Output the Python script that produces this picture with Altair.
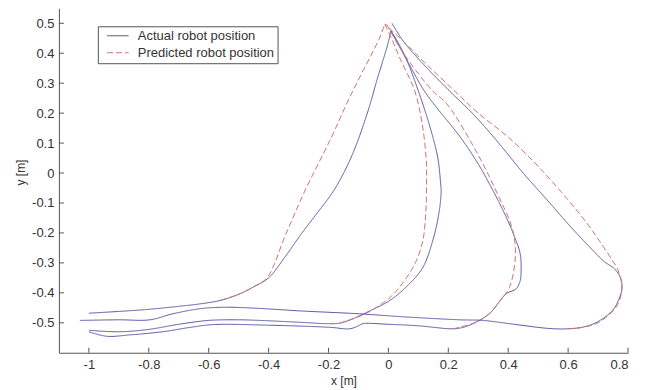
import altair as alt
import pandas as pd

X_TICKS = [-1, -0.8, -0.6, -0.4, -0.2, 0, 0.2, 0.4, 0.6, 0.8]
Y_TICKS = [-0.5, -0.4, -0.3, -0.2, -0.1, 0, 0.1, 0.2, 0.3, 0.4, 0.5]

ACT = "Actual robot position"
PRED = "Predicted robot position"

# Path A (leftmost)
a_act_x = [-1.0, -0.9, -0.8, -0.7, -0.63, -0.56, -0.5, -0.45, -0.40, -0.345, -0.29, -0.235, -0.19,
           -0.16, -0.13, -0.105, -0.079, -0.058, -0.039, -0.02, -0.002, 0.008]
a_act_y = [-0.468, -0.462, -0.455, -0.445, -0.437, -0.425, -0.405, -0.38, -0.35, -0.28, -0.202, -0.13,
           -0.07, -0.02, 0.04, 0.10, 0.174, 0.24, 0.308, 0.37, 0.43, 0.475]
a_pred_x = [-0.56, -0.5, -0.45, -0.405, -0.342, -0.279, -0.19, -0.14, -0.102, -0.062, -0.03, -0.012]
a_pred_y = [-0.425, -0.405, -0.38, -0.349, -0.203, -0.06, 0.12, 0.23, 0.308, 0.385, 0.45, 0.497]

# Path B
b_act_x = [-1.0, -0.9, -0.8, -0.7, -0.6, -0.5, -0.43, -0.3, -0.2, -0.162, -0.12, -0.062, 0.004,
           0.07, 0.115, 0.148, 0.17, 0.176, 0.174, 0.165, 0.14, 0.10, 0.06, 0.03, 0.008]
b_act_y = [-0.525, -0.53, -0.522, -0.505, -0.492, -0.49, -0.492, -0.498, -0.503, -0.501, -0.487,
           -0.46, -0.426, -0.37, -0.315, -0.226, -0.126, -0.06, -0.03, 0.05, 0.15, 0.274, 0.38, 0.44, 0.475]
b_pred_x = [-0.162, -0.1, -0.05, 0.0, 0.03, 0.06, 0.09, 0.115, 0.125, 0.127, 0.127, 0.115, 0.088,
            0.04, 0.01, -0.012]
b_pred_y = [-0.501, -0.48, -0.455, -0.42, -0.39, -0.35, -0.30, -0.226, -0.13, -0.06, 0.03, 0.15,
            0.274, 0.38, 0.45, 0.497]

# Path C
c_act_x = [-1.0, -0.94, -0.86, -0.8, -0.74, -0.66, -0.585, -0.4, -0.196, -0.129, -0.1, -0.085, 0.0,
           0.1, 0.216, 0.25, 0.282, 0.338, 0.37, 0.393, 0.427, 0.44, 0.443, 0.44, 0.42, 0.39, 0.35,
           0.30, 0.24, 0.16, 0.12, 0.06, 0.008]
c_act_y = [-0.53, -0.545, -0.54, -0.535, -0.528, -0.515, -0.506, -0.508, -0.515, -0.52, -0.51, -0.503,
           -0.505, -0.51, -0.52, -0.515, -0.503, -0.469, -0.43, -0.403, -0.386, -0.36, -0.33, -0.27,
           -0.21, -0.14, -0.06, 0.03, 0.12, 0.22, 0.274, 0.38, 0.475]
c_pred_x = [0.216, 0.26, 0.30, 0.338, 0.37, 0.404, 0.423, 0.421, 0.405, 0.37, 0.30, 0.195, 0.148,
            0.05, -0.006]
c_pred_y = [-0.52, -0.509, -0.495, -0.469, -0.43, -0.382, -0.29, -0.22, -0.16, -0.082, 0.06, 0.231,
            0.274, 0.40, 0.497]

# Path D (rightmost)
d_act_x = [-1.03, -0.9, -0.796, -0.72, -0.629, -0.55, -0.43, -0.3, -0.096, 0.05, 0.238, 0.315, 0.42,
           0.538, 0.6, 0.66, 0.71, 0.748, 0.77, 0.78, 0.775, 0.755, 0.72, 0.67, 0.60, 0.53, 0.45,
           0.36, 0.28, 0.204, 0.12, 0.05, 0.012]
d_act_y = [-0.492, -0.49, -0.49, -0.47, -0.453, -0.448, -0.452, -0.46, -0.47, -0.48, -0.49, -0.492,
           -0.505, -0.519, -0.52, -0.512, -0.49, -0.459, -0.42, -0.382, -0.35, -0.32, -0.295, -0.245,
           -0.17, -0.09, 0.0, 0.11, 0.2, 0.274, 0.36, 0.44, 0.50]
d_pred_x = [0.6, 0.65, 0.694, 0.735, 0.765, 0.778, 0.777, 0.765, 0.748, 0.704, 0.661, 0.60, 0.53,
            0.482, 0.40, 0.30, 0.221, 0.12, 0.05, -0.012]
d_pred_y = [-0.52, -0.515, -0.503, -0.475, -0.44, -0.40, -0.359, -0.32, -0.292, -0.226, -0.165,
            -0.09, -0.01, 0.041, 0.12, 0.20, 0.274, 0.37, 0.44, 0.497]

paths = [
    (ACT, "A", a_act_x, a_act_y), (PRED, "A", a_pred_x, a_pred_y),
    (ACT, "B", b_act_x, b_act_y), (PRED, "B", b_pred_x, b_pred_y),
    (ACT, "C", c_act_x, c_act_y), (PRED, "C", c_pred_x, c_pred_y),
    (ACT, "D", d_act_x, d_act_y), (PRED, "D", d_pred_x, d_pred_y),
]

rows = []
for series, name, xs, ys in paths:
    for i, (x, y) in enumerate(zip(xs, ys)):
        rows.append({"x": x, "y": y, "series": series, "path": series + name, "order": i})
df = pd.DataFrame(rows)

BLUE = "#5858a4"
RED = "#d07272"
AXIS = "#555555"
TEXT = "#333333"
FONT = "Liberation Sans"

W, H = 570, 345
xscale = alt.Scale(domain=[-1.1, 0.8], nice=False, zero=False)
yscale = alt.Scale(domain=[-0.6, 0.55], nice=False, zero=False)

fix_minus = "replace(datum.label, '\u2212', '-')"
xaxis = alt.Axis(values=X_TICKS, format="~g", labelExpr=fix_minus, title="x [m]",
                 ticks=False, labelPadding=6, titlePadding=4, grid=False)
yaxis = alt.Axis(values=Y_TICKS, format="~g", labelExpr=fix_minus, title="y [m]",
                 ticks=False, labelPadding=5, titlePadding=4, titleY=164, grid=False)

lines = alt.Chart(df).mark_line(strokeWidth=1, interpolate="catmull-rom").encode(
    x=alt.X("x:Q", scale=xscale, axis=xaxis),
    y=alt.Y("y:Q", scale=yscale, axis=yaxis),
    color=alt.Color("series:N", scale=alt.Scale(domain=[ACT, PRED], range=[BLUE, RED]),
                    legend=alt.Legend(title=None, labelExpr="datum.label + '\u00a0\u00a0'")),
    strokeDash=alt.StrokeDash("series:N", scale=alt.Scale(domain=[ACT, PRED], range=[[1, 0], [6, 3]]),
                              legend=alt.Legend(title=None, labelExpr="datum.label + '\u00a0\u00a0'")),
    detail="path:N",
    order=alt.Order("order:Q"),
)

xt = pd.DataFrame({"x": X_TICKS})
yt = pd.DataFrame({"y": Y_TICKS})
xticks = alt.Chart(xt).mark_rule(color=AXIS, strokeWidth=1).encode(
    x=alt.X("x:Q", scale=xscale, axis=xaxis), y=alt.value(H), y2=alt.value(H - 5))
yticks = alt.Chart(yt).mark_rule(color=AXIS, strokeWidth=1).encode(
    y=alt.Y("y:Q", scale=yscale, axis=yaxis), x=alt.value(0), x2=alt.value(5))

chart = alt.layer(lines, xticks, yticks).properties(
    width=W, height=H, autosize=alt.AutoSizeParams(type="none"),
    padding={"left": 51, "top": 0, "right": 10, "bottom": 35},
    background="white",
).configure_view(stroke=None).configure_axis(
    domainColor=AXIS, labelColor=TEXT, titleColor=TEXT, labelFont=FONT, titleFont=FONT,
    labelFontSize=13, titleFontSize=12, titleFontWeight="normal",
).configure_legend(
    orient="none", legendX=39, legendY=18, strokeColor=AXIS, fillColor="white",
    padding=3, rowPadding=3, labelFont=FONT, labelFontSize=13, labelColor=TEXT,
    symbolType="M-1.8,0H1.8", symbolSize=144, symbolStrokeWidth=1, symbolOffset=10.5,
    labelOffset=13.5, cornerRadius=0,
)

chart.save("out.html", embed_options={"renderer": "svg", "actions": False})
